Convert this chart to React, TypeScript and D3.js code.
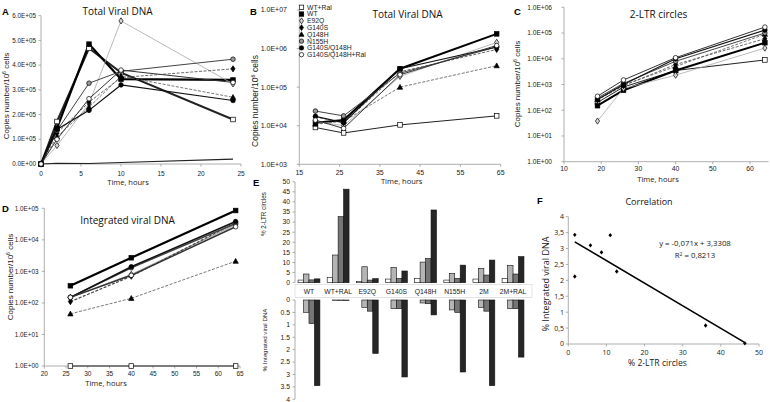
import React from 'react';
import * as d3 from 'd3';

// ---------------- DATA ----------------
const SERIES = ['WT+Ral', 'WT', 'E92Q', 'G140S', 'Q148H', 'N155H', 'G140S/Q148H', 'G140S/Q148H+Ral'];

// Panel A – total viral DNA (linear)
const hoursA = [0, 2, 6, 10, 24];
const totalA = [
  [0, 172000, 468000, 370000, 180000],
  [0, 145000, 485000, 343000, 340000],
  [0, 75000, 244000, 579000, 324000],
  [0, 125000, 250000, 350000, 385000],
  [0, 110000, 230000, 355000, 270000],
  [0, 135000, 327000, 375000, 424000],
  [0, 140000, 217000, 320000, 257000],
  [0, 100000, 264000, 380000, 330000],
];
const mockA = [0, 3000, 2000, 6000, 20000];
const ticksA = [0, 100000, 200000, 300000, 400000, 500000, 600000];
const xTicksA = [0, 5, 10, 15, 20, 25];

// Panel B – total viral DNA (log)
const hoursB = [19, 26, 40, 64];
const totalB = [
  [9000, 6500, 10500, 18000],
  [12000, 14000, 300000, 2400000],
  [13000, 10000, 190000, 1450000],
  [17000, 12000, 250000, 950000],
  [11000, 13000, 100000, 360000],
  [24000, 18000, 230000, 1100000],
  [17500, 12000, 300000, 1100000],
  [14000, 8500, 210000, 1200000],
];
const ticksB = [1e3, 1e4, 1e5, 1e6, 1e7];
const xTicksB = [15, 25, 35, 45, 55, 65];

// Panel C – 2-LTR circles
const hoursC = [19, 26, 40, 64];
const ltrC = [
  [200, 800, 3500, 9000],
  [150, 600, 3500, 42000],
  [38, 700, 2300, 26000],
  [250, 900, 6000, 60000],
  [260, 950, 5000, 90000],
  [300, 1100, 8000, 100000],
  [260, 1000, 10000, 130000],
  [350, 1500, 11000, 170000],
];
const ticksC = [1, 10, 100, 1e3, 1e4, 1e5, 1e6];
const xTicksC = [10, 20, 30, 40, 50, 60];

// Panel D – integrated viral DNA
const hoursD = [26, 40, 64];
const intD = [
  [1, 1, 1],
  [350, 2700, 85000],
  [150, 800, 30000],
  [110, 700, 35000],
  [45, 140, 2100],
  [150, 1300, 33000],
  [150, 1400, 38000],
  [150, 750, 26000],
];
const ticksD = [1, 10, 100, 1e3, 1e4, 1e5];
const xTicksD = [20, 25, 30, 35, 40, 45, 50, 55, 60, 65];

// Panel E – percentages
const categoriesE = ['WT', 'WT+RAL', 'E92Q', 'G140S', 'Q148H', 'N155H', '2M', '2M+RAL'];
const ltr19 = [1.3, 2.5, 0.5, 1.8, 2.1, 1.3, 1.8, 2.1];
const ltr26 = [4.3, 13.7, 7.9, 7.6, 10.2, 4.6, 7.1, 8.6];
const ltr40 = [1.4, 32.7, 1.3, 2.1, 12, 2.1, 3.8, 4.3];
const ltr64 = [1.9, 46.3, 2, 5.8, 36, 8.7, 11.2, 12.9];
const int19 = [0, 0, 0, 0, 0, 0, 0, 0];
const int26 = [0.5, 0.02, 0.3, 0.35, 0.12, 0.4, 0.3, 0.35];
const int40 = [0.95, 0.02, 0.45, 0.35, 0.15, 0.5, 0.45, 0.35];
const int64 = [3.45, 0.02, 2.15, 3.1, 0.6, 2.9, 3.45, 2.3];
const ticksETop = [0, 5, 10, 15, 20, 25, 30, 35, 40, 45, 50];
const ticksEBot = [0, 0.5, 1, 1.5, 2, 2.5, 3, 3.5, 4];

// Panel F – correlation
const ltrF = [1.7, 1.7, 5.8, 8.7, 11, 12.7, 36, 46.3];
const intF = [3.43, 2.12, 3.1, 2.88, 3.42, 2.28, 0.58, 0.02];
const slopeF = -0.071;
const interceptF = 3.3308;
const r2F = 0.8213;
const ticksFY = [0, 0.5, 1, 1.5, 2, 2.5, 3, 3.5, 4];
const ticksFX = [0, 10, 20, 30, 40, 50];

// ---------------- STYLES ----------------
const STYLE: Record<string, any> = {
  'WT+Ral': { shape: 'square', fill: '#fff', line: '#222', width: 1 },
  'WT': { shape: 'square', fill: '#000', line: '#000', width: 2 },
  'E92Q': { shape: 'diamond', fill: '#d8d8d8', line: '#aaa', width: 0.8 },
  'G140S': { shape: 'diamond', fill: '#000', line: '#444', width: 0.8, dash: '3,1.5' },
  'Q148H': { shape: 'triangle', fill: '#000', line: '#555', width: 0.8, dash: '3,1.5' },
  'N155H': { shape: 'circle', fill: '#999', line: '#444', width: 1 },
  'G140S/Q148H': { shape: 'circle', fill: '#000', line: '#111', width: 1.2 },
  'G140S/Q148H+Ral': { shape: 'circle', fill: '#fff', line: '#333', width: 1 },
};

const AX = '#9a9a9a';
const TXT = '#1a1a1a';
const TICKFONT = '"Liberation Sans", Arial, sans-serif';
const TITLEFONT = '"Open Sans", "Noto Sans", sans-serif';

const sciFmt = (v: number) => {
  if (v === 0) return '0.0E+00';
  const e = Math.floor(Math.log10(v) + 1e-9);
  const m = v / Math.pow(10, e);
  return `${m.toFixed(1)}E+${String(e).padStart(2, '0')}`;
};

function Marker({ shape, x, y, fill, s = 2.3 }: any) {
  const st = { stroke: '#000', strokeWidth: 0.7 };
  if (shape === 'square') return <rect x={x - s} y={y - s} width={2 * s} height={2 * s} fill={fill} {...st} />;
  if (shape === 'diamond')
    return <path d={`M${x},${y - s * 1.35}L${x + s * 0.9},${y}L${x},${y + s * 1.35}L${x - s * 0.9},${y}Z`} fill={fill} {...st} />;
  if (shape === 'triangle')
    return <path d={`M${x},${y - s * 1.2}L${x + s * 1.15},${y + s * 0.9}L${x - s * 1.15},${y + s * 0.9}Z`} fill={fill} {...st} />;
  return <circle cx={x} cy={y} r={s} fill={fill} {...st} />;
}

function YAxis({ scale, ticks, x, labelX, fmt, fs = 6.5, font = TICKFONT }: any) {
  const [r0, r1] = scale.range();
  return (
    <g>
      <line x1={x} x2={x} y1={r0} y2={r1} stroke={AX} strokeWidth={0.8} />
      {ticks.map((t: number, i: number) => (
        <g key={i}>
          <line x1={x - 2.5} x2={x} y1={scale(t)} y2={scale(t)} stroke={AX} strokeWidth={0.8} />
          <text x={labelX} y={scale(t) + fs * 0.35} textAnchor="end" fontSize={fs} fontFamily={font} fill={TXT}>{fmt(t)}</text>
        </g>
      ))}
    </g>
  );
}

function XAxis({ scale, ticks, y, labelY, fmt = (d: number) => String(d), fs = 6.5, font = TICKFONT }: any) {
  const [r0, r1] = scale.range();
  return (
    <g>
      <line x1={r0} x2={r1} y1={y} y2={y} stroke={AX} strokeWidth={0.8} />
      {ticks.map((t: number, i: number) => (
        <g key={i}>
          <line x1={scale(t)} x2={scale(t)} y1={y} y2={y + 2.5} stroke={AX} strokeWidth={0.8} />
          <text x={scale(t)} y={labelY} textAnchor="middle" fontSize={fs} fontFamily={font} fill={TXT}>{fmt(t)}</text>
        </g>
      ))}
    </g>
  );
}

function CopiesLabel({ x, y, fs = 8 }: any) {
  return (
    <text transform={`translate(${x},${y}) rotate(-90)`} textAnchor="middle" fontSize={fs} fontFamily={TICKFONT} fill={TXT}>
      Copies number/10<tspan dy={-fs * 0.35} fontSize={fs * 0.65}>6</tspan><tspan dy={fs * 0.35}> cells</tspan>
    </text>
  );
}

function Series({ xs, data, xScale, yScale, widthOverride, ms = 2.3 }: any) {
  const line = d3.line<number>().x((_, i) => xScale(xs[i])).y((d) => yScale(d));
  return (
    <g>
      {data.map((vals: number[], si: number) => {
        const st = STYLE[SERIES[si]];
        const w = widthOverride && widthOverride[si] != null ? widthOverride[si] : st.width;
        return <path key={'l' + si} d={line(vals) || ''} fill="none" stroke={st.line} strokeWidth={w} strokeDasharray={st.dash || null} />;
      })}
      {data.map((vals: number[], si: number) => {
        const st = STYLE[SERIES[si]];
        return vals.map((v, i) => (
          <Marker key={si + '-' + i} shape={st.shape} fill={st.fill} x={xScale(xs[i])} y={yScale(v)} s={ms} />
        ));
      })}
    </g>
  );
}

function PanelLetter({ x, y, t }: any) {
  return <text x={x} y={y} fontSize={9.5} fontWeight="bold" fontFamily={TICKFONT} fill="#000">{t}</text>;
}

function Title({ x, y, t, fs = 10 }: any) {
  return <text x={x} y={y} textAnchor="middle" fontSize={fs} fontFamily={TITLEFONT} fill="#111">{t}</text>;
}

export default function App() {
  // Panel A
  const xA = d3.scaleLinear().domain([0, 25]).range([41, 241]);
  const yA = d3.scaleLinear().domain([0, 600000]).range([164, 15.7]);
  const lineA = d3.line<number>().x((_, i) => xA(hoursA[i])).y((d) => yA(d));

  // Panel B
  const xB = d3.scaleLinear().domain([15, 65]).range([299.3, 500.7]);
  const yB = d3.scaleLog().domain([1e3, 1e7]).range([164.3, 10]);

  // Panel C
  const xC = d3.scaleLinear().domain([10, 65]).range([564, 768.6]);
  const yC = d3.scaleLog().domain([1, 1e6]).range([161.7, 7.3]);

  // Panel D
  const xD = d3.scaleLinear().domain([20, 65]).range([44.3, 240]);
  const yD = d3.scaleLog().domain([1, 1e5]).range([366, 208.3]);

  // Panel E
  const xE = d3.scaleBand<string>().domain(categoriesE).range([294.4, 527.6]).paddingInner(0.25).paddingOuter(0.125);
  const subE = d3.scaleBand<string>().domain(['19', '26', '40', '64']).range([0, xE.bandwidth()]);
  const yETop = d3.scaleLinear().domain([0, 50]).range([282.7, 181.7]);
  const yEBot = d3.scaleLinear().domain([0, 4]).range([300, 399.3]);
  const ltrSets = [ltr19, ltr26, ltr40, ltr64];
  const intSets = [int19, int26, int40, int64];
  const barFill = ['#ffffff', '#b4b4b4', '#767676', '#262626'];
  const subKeys = ['19', '26', '40', '64'];

  // Panel F
  const xF = d3.scaleLinear().domain([0, 50]).range([568.3, 759]);
  const yF = d3.scaleLinear().domain([0, 4]).range([344, 216.7]);
  const xMin = d3.min(ltrF) as number;
  const xMax = d3.max(ltrF) as number;
  const commaFmt = (v: number) => String(v).replace('.', ',');

  return (
    <svg width={770} height={402} style={{ position: 'absolute', left: 0, top: 0, background: '#fff' }}>
      <rect width={770} height={402} fill="#fff" />

      {/* ---------- Panel A ---------- */}
      <PanelLetter x={2} y={15} t="A" />
      <Title x={117.5} y={15} t="Total Viral DNA" />
      <YAxis scale={yA} ticks={ticksA} x={41} labelX={36} fmt={sciFmt} fs={6.3} />
      <XAxis scale={xA} ticks={xTicksA} y={164} labelY={176} fs={6.5} />
      <CopiesLabel x={9} y={96} />
      <text x={128} y={185} textAnchor="middle" fontSize={7.5} fontFamily={TITLEFONT} fill={TXT}>Time, hours</text>
      <path d={lineA(mockA) || ''} fill="none" stroke="#222" strokeWidth={1.2} />
      <Series xs={hoursA} data={totalA} xScale={xA} yScale={yA} widthOverride={[2, 2.2]} />

      {/* ---------- Panel B ---------- */}
      <PanelLetter x={250} y={15} t="B" />
      <Title x={407.5} y={18.3} t="Total Viral DNA" />
      <YAxis scale={yB} ticks={ticksB} x={299.3} labelX={287} fmt={sciFmt} fs={7} />
      <XAxis scale={xB} ticks={xTicksB} y={164.3} labelY={175} fs={7} />
      <CopiesLabel x={258} y={101} fs={8.5} />
      <text x={401.7} y={184} textAnchor="middle" fontSize={7.5} fontFamily={TITLEFONT} fill={TXT}>Time, hours</text>
      <Series xs={hoursB} data={totalB} xScale={xB} yScale={yB} />
      {SERIES.map((name, i) => {
        const st = STYLE[name];
        const yy = 7.3 + i * 6.77;
        return (
          <g key={name}>
            <Marker shape={st.shape} fill={st.fill} x={301.5} y={yy} s={2.2} />
            <text x={307} y={yy + 2.4} fontSize={6.8} fontFamily={TICKFONT} fill={TXT}>{name}</text>
          </g>
        );
      })}

      {/* ---------- Panel C ---------- */}
      <PanelLetter x={514} y={15} t="C" />
      <Title x={658.5} y={18.3} t="2-LTR circles" />
      <YAxis scale={yC} ticks={ticksC} x={564} labelX={552} fmt={sciFmt} fs={6.6} />
      <XAxis scale={xC} ticks={xTicksC} y={161.7} labelY={171} fs={6.8} />
      <CopiesLabel x={520} y={84} />
      <text x={658} y={181.7} textAnchor="middle" fontSize={7.5} fontFamily={TITLEFONT} fill={TXT}>Time, hours</text>
      <Series xs={hoursC} data={ltrC} xScale={xC} yScale={yC} />

      {/* ---------- Panel D ---------- */}
      <PanelLetter x={2} y={212} t="D" />
      <Title x={127.5} y={224.3} t="Integrated viral DNA" />
      <YAxis scale={yD} ticks={ticksD} x={44.3} labelX={38.5} fmt={sciFmt} fs={6.3} />
      <XAxis scale={xD} ticks={xTicksD} y={366} labelY={376} fs={6.5} />
      <CopiesLabel x={13} y={277} />
      <text x={106} y={385.7} textAnchor="middle" fontSize={7.5} fontFamily={TITLEFONT} fill={TXT}>Time, hours</text>
      <Series xs={hoursD} data={intD} xScale={xD} yScale={yD} widthOverride={[1.2, 2.2, 1.2, 1.2, 0.8, 1.5, 1.5, 1.5]} />

      {/* ---------- Panel E ---------- */}
      <PanelLetter x={253} y={185.7} t="E" />
      <YAxis scale={yETop} ticks={ticksETop} x={295} labelX={290} fmt={(d: number) => String(d)} fs={6.8} />
      <YAxis scale={yEBot} ticks={ticksEBot} x={295} labelX={290} fmt={(d: number) => String(d)} fs={6.8} />
      <text transform="translate(265.5,214) rotate(-90)" textAnchor="middle" fontSize={6.3} fontFamily={TICKFONT} fill={TXT}>% 2-LTR circles</text>
      <text transform="translate(267,340) rotate(-90)" textAnchor="middle" fontSize={6.2} fontFamily={TICKFONT} fill={TXT}>% Integrated viral DNA</text>
      {categoriesE.map((c, ci) => (
        <g key={c}>
          {ltrSets.map((set, k) => {
            const x0 = (xE(c) as number) + (subE(subKeys[k]) as number);
            return <rect key={'t' + k} x={x0} y={yETop(set[ci])} width={subE.bandwidth()} height={yETop(0) - yETop(set[ci])} fill={barFill[k]} stroke="#111" strokeWidth={0.6} />;
          })}
          {intSets.map((set, k) => {
            if (set[ci] <= 0) return null;
            const x0 = (xE(c) as number) + (subE(subKeys[k]) as number);
            return <rect key={'b' + k} x={x0} y={yEBot(0)} width={subE.bandwidth()} height={yEBot(set[ci]) - yEBot(0)} fill={barFill[k]} stroke="#111" strokeWidth={0.6} />;
          })}
        </g>
      ))}
      <rect x={295} y={284.5} width={237} height={13} fill="#fff" stroke="#d0d0d0" strokeWidth={0.6} />
      {categoriesE.map((c) => (
        <text key={'lab' + c} x={(xE(c) as number) + xE.bandwidth() / 2} y={293.8} textAnchor="middle" fontSize={6.8} fontFamily={TICKFONT} fill={TXT}>{c}</text>
      ))}

      {/* ---------- Panel F ---------- */}
      <PanelLetter x={537} y={204} t="F" />
      <Title x={649} y={205} t="Correlation" fs={9} />
      <YAxis scale={yF} ticks={ticksFY} x={568.3} labelX={564} fmt={commaFmt} fs={7} font={TITLEFONT} />
      <XAxis scale={xF} ticks={ticksFX} y={344} labelY={354.5} fs={7} font={TITLEFONT} />
      <text x={657.5} y={365.7} textAnchor="middle" fontSize={8.6} fontFamily={TITLEFONT} fill={TXT}>% 2-LTR circles</text>
      <text transform="translate(549,284) rotate(-90)" textAnchor="middle" fontSize={9} fontFamily={TITLEFONT} fill={TXT}>% Integrated viral DNA</text>
      <line x1={xF(xMin)} y1={yF(slopeF * xMin + interceptF)} x2={xF(xMax)} y2={yF(slopeF * xMax + interceptF)} stroke="#000" strokeWidth={1.6} />
      {ltrF.map((v, i) => (
        <path key={'f' + i} d={`M${xF(v)},${yF(intF[i]) - 2.2}L${xF(v) + 1.8},${yF(intF[i])}L${xF(v)},${yF(intF[i]) + 2.2}L${xF(v) - 1.8},${yF(intF[i])}Z`} fill="#000" />
      ))}
      <text x={695} y={246} textAnchor="middle" fontSize={7.8} fontFamily={TITLEFONT} fill={TXT}>
        {`y = ${commaFmt(slopeF)}x + ${commaFmt(interceptF)}`}
      </text>
      <text x={695} y={258} textAnchor="middle" fontSize={7.8} fontFamily={TITLEFONT} fill={TXT}>
        R<tspan dy={-2.5} fontSize={5}>2</tspan><tspan dy={2.5}>{` = ${commaFmt(r2F)}`}</tspan>
      </text>
    </svg>
  );
}
